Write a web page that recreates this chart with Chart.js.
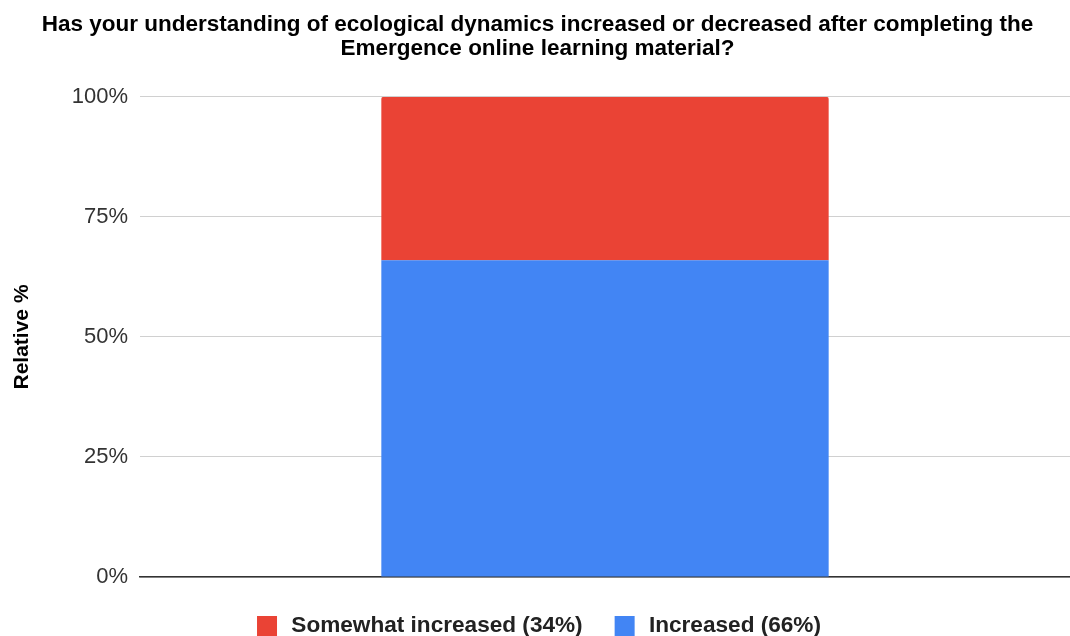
<!DOCTYPE html>
<html>
<head>
<meta charset="utf-8">
<script src="https://cdn.jsdelivr.net/npm/chart.js@4.4.1/dist/chart.umd.min.js"></script>
<style>
  html, body { margin: 0; padding: 0; background: #fff; }
  #wrap { width: 1070px; height: 636px; }
</style>
</head>
<body>
<div id="wrap"><canvas id="c" width="1070" height="636"></canvas></div>
<script>
// Survey result: change in understanding of ecological dynamics
const categories = [''];
const increased = [66];
const somewhatIncreased = [34];
const yTicks = [0, 25, 50, 75, 100];

const titleLines = [
  'Has your understanding of ecological dynamics increased or decreased after completing the',
  'Emergence online learning material?'
];

const FONT = 'Liberation Sans, Arial, sans-serif';

const ctx = document.getElementById('c').getContext('2d');
new Chart(ctx, {
  type: 'bar',
  data: {
    labels: categories,
    datasets: [
      {
        label: 'Increased (66%)',
        data: increased,
        backgroundColor: '#4285F4',
        borderWidth: 0
      },
      {
        label: 'Somewhat increased (34%)',
        data: somewhatIncreased,
        backgroundColor: '#EA4335',
        borderWidth: 0,
        borderRadius: { topLeft: 2, topRight: 2, bottomLeft: 0, bottomRight: 0 },
        borderSkipped: false
      }
    ]
  },
  options: {
    responsive: false,
    animation: false,
    devicePixelRatio: 1,
    layout: { padding: { left: 5, right: 0, top: 4, bottom: -13 } },
    datasets: { bar: { categoryPercentage: 1, barPercentage: 0.481 } },
    plugins: {
      title: {
        display: true,
        text: titleLines,
        color: '#000',
        font: { family: FONT, size: 22.5, weight: 'bold', lineHeight: 1.07 },
        padding: { top: 8.5, bottom: 36.3 }
      },
      legend: {
        position: 'bottom',
        reverse: true,
        labels: {
          color: '#222',
          // 26px swatch with a 6px white outline leaves a 20px coloured square
          // and a wider gap before the label text
          boxWidth: 26,
          boxHeight: 26,
          padding: 29,
          font: { family: FONT, size: 22.6, weight: 'bold' },
          generateLabels: chart => {
            const items = Chart.defaults.plugins.legend.labels.generateLabels(chart);
            return items.map(it => Object.assign(it, { lineWidth: 6, strokeStyle: '#fff' }));
          }
        }
      },
      tooltip: { enabled: false }
    },
    scales: {
      x: {
        stacked: true,
        grid: { display: false, drawTicks: false },
        ticks: { display: false },
        border: { display: true, color: '#333', width: 1.5 },
        afterFit: s => { s.height = 7; }
      },
      y: {
        stacked: true,
        min: 0,
        max: 100,
        afterBuildTicks: s => { s.ticks = yTicks.map(v => ({ value: v })); },
        ticks: {
          color: '#333',
          padding: 12,
          font: { family: FONT, size: 22 },
          callback: v => v + '%'
        },
        grid: { color: '#d0d0d0', lineWidth: 1, drawTicks: false },
        border: { display: false },
        title: {
          display: true,
          text: 'Relative %',
          color: '#000',
          font: { family: FONT, size: 21, weight: 'bold' },
          padding: { top: 5, bottom: 0 }
        },
        afterFit: s => { s.width = 135; }
      }
    }
  }
});
</script>
</body>
</html>
